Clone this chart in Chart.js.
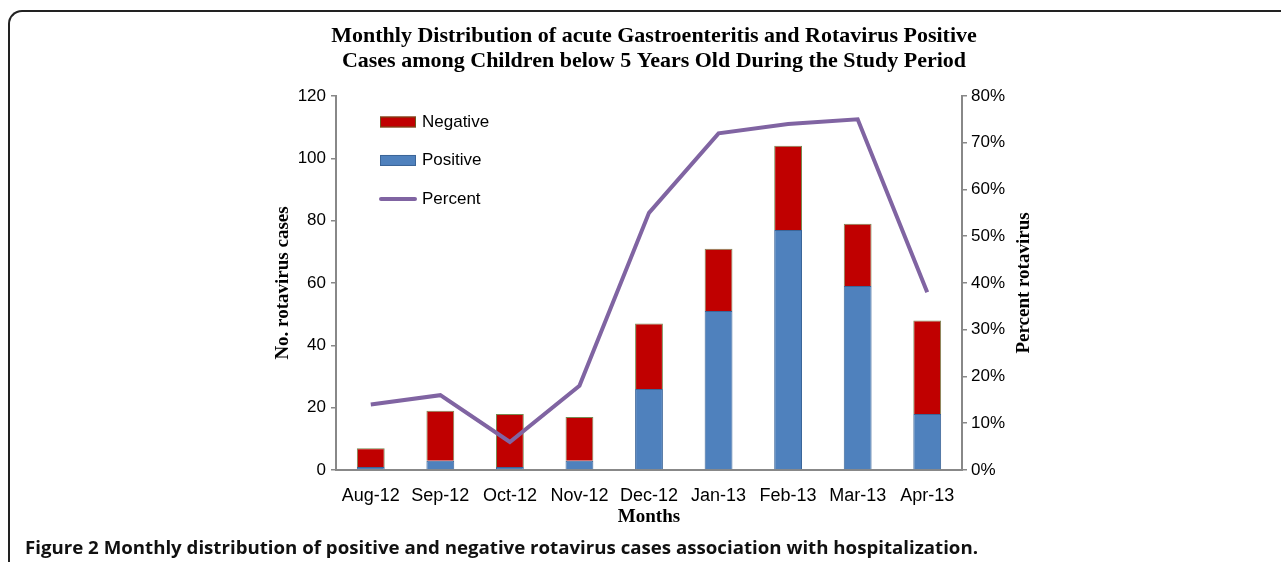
<!DOCTYPE html>
<html>
<head>
<meta charset="utf-8">
<script src="https://cdn.jsdelivr.net/npm/chart.js@4.4.1/dist/chart.umd.min.js"></script>
<style>
body { margin: 0; background: #fff; }
#frame { position: absolute; left: 8px; top: 10px; width: 1300px; height: 600px;
  border-left: 2px solid #222; border-top: 2px solid #222; border-top-left-radius: 14px; }
#wrap { position: absolute; left: 0; top: 0; width: 1281px; height: 562px; }
#caption { position: absolute; left: 25px; top: 535px; font: bold 18px "Open Sans", sans-serif;
  white-space: nowrap; transform-origin: 0 0; color: #111; }
</style>
</head>
<body>
<div id="frame"></div>
<div id="wrap"><canvas id="comboChart" width="1281" height="562"></canvas></div>
<div id="caption">Figure 2 Monthly distribution of positive and negative rotavirus cases association with hospitalization.</div>
<script>
var months = ["Aug-12", "Sep-12", "Oct-12", "Nov-12", "Dec-12", "Jan-13", "Feb-13", "Mar-13", "Apr-13"];
var positive = [1, 3, 1, 3, 26, 51, 77, 59, 18];
var negative = [6, 16, 17, 14, 21, 20, 27, 20, 30];
var percent = [0.14, 0.16, 0.06, 0.18, 0.55, 0.72, 0.74, 0.75, 0.38];
var legendOrder = ["Negative", "Positive", "Percent"];

var cap = document.getElementById("caption");
cap.style.transform = "scaleX(" + (953 / cap.offsetWidth) + ")";

var sans = "'Liberation Sans', Arial, sans-serif";
var serif = "'Liberation Serif', 'Times New Roman', serif";

// right axis title reads bottom-to-top, draw it ourselves
var rightTitle = {
  id: 'rightTitle',
  afterDraw: function(chart) {
    var ctx = chart.ctx, a = chart.chartArea;
    ctx.save();
    ctx.translate(1024, (a.top + a.bottom) / 2);
    ctx.rotate(-Math.PI / 2);
    ctx.font = "bold 19px " + serif;
    ctx.fillStyle = "#000";
    ctx.textAlign = "center";
    ctx.textBaseline = "middle";
    ctx.fillText("Percent rotavirus", 0, 0);
    ctx.restore();
  }
};

// legend sits inside the plot, top left, one item per row
var innerLegend = {
  id: 'innerLegend',
  afterDatasetsDraw: function(chart) {
    var ctx = chart.ctx, a = chart.chartArea;
    var x = a.left + 44, y = a.top + 26;
    ctx.save();
    ctx.font = "17px " + sans;
    ctx.textBaseline = "middle";
    legendOrder.forEach(function(name, i) {
      var ds = chart.data.datasets.find(function(d) { return d.label === name; });
      var cy = y + i * 38.5;
      if (ds.type === 'line') {
        ctx.strokeStyle = ds.borderColor;
        ctx.lineWidth = ds.borderWidth;
        ctx.lineCap = 'round';
        ctx.beginPath();
        ctx.moveTo(x + 1, cy);
        ctx.lineTo(x + 35, cy);
        ctx.stroke();
      } else {
        ctx.fillStyle = ds.backgroundColor;
        ctx.fillRect(x, cy - 5.5, 36, 11);
        ctx.strokeStyle = ds.borderColor;
        ctx.lineWidth = 1;
        ctx.strokeRect(x + 0.5, cy - 5, 35, 10);
      }
      ctx.fillStyle = '#000';
      ctx.fillText(name, x + 42, cy);
    });
    ctx.restore();
  }
};

var ctx = document.getElementById("comboChart").getContext('2d');
var myChart = new Chart(ctx, {
  type: 'bar',
  data: {
    labels: months,
    datasets: [{
      label: "Positive",
      data: positive,
      backgroundColor: '#4F81BD',
      borderColor: '#3B6598',
      borderWidth: 1,
      order: 1,
      yAxisID: 'y'
    },
    {
      label: "Negative",
      data: negative,
      backgroundColor: '#C00000',
      borderColor: 'rgba(85,110,40,0.8)',
      borderWidth: 1,
      order: 2,
      yAxisID: 'y'
    },
    {
      type: 'line',
      label: "Percent",
      data: percent,
      borderColor: '#8064A2',
      backgroundColor: '#8064A2',
      borderWidth: 4,
      pointRadius: 0,
      tension: 0,
      order: 0,
      yAxisID: 'y1'
    }]
  },
  options: {
    responsive: false,
    animation: false,
    categoryPercentage: 0.8,
    barPercentage: 0.5,
    layout: { padding: { left: 268, right: 241, top: 24, bottom: 30 } },
    plugins: {
      tooltip: { enabled: false },
      legend: { display: false },
      title: {
        display: true,
        text: ["Monthly Distribution of acute Gastroenteritis and Rotavirus Positive",
               "Cases among Children below 5 Years Old During the Study Period"],
        color: '#000',
        font: { family: serif, size: 22, weight: 'bold', lineHeight: 1.136 },
        padding: { top: 0, bottom: 22 }
      }
    },
    scales: {
      x: {
        stacked: true,
        offset: true,
        afterFit: function(s) { s.height = 62; },
        grid: { display: false },
        border: { display: true, color: '#888', width: 2 },
        ticks: { color: '#000', padding: 7, maxRotation: 0, font: { family: sans, size: 18 } },
        title: { display: true, text: "Months", color: '#000', font: { family: serif, size: 19, weight: 'bold' } }
      },
      y: {
        stacked: true,
        position: 'left',
        min: 0, max: 120,
        afterFit: function(s) { s.width = 336 - 268; },
        grid: { drawOnChartArea: false, tickLength: 5, color: '#888', lineWidth: 1.5 },
        border: { color: '#888', width: 2 },
        ticks: { stepSize: 20, color: '#000', padding: 5, font: { family: sans, size: 17 } },
        title: { display: true, text: "No. rotavirus cases", color: '#000', font: { family: serif, size: 19, weight: 'bold' } }
      },
      y1: {
        position: 'right',
        min: 0, max: 0.8,
        afterFit: function(s) { s.width = 1281 - 241 - 962; },
        grid: { drawOnChartArea: false, tickLength: 5, color: '#888', lineWidth: 1.5 },
        border: { color: '#888', width: 2 },
        ticks: {
          stepSize: 0.1, color: '#000', padding: 4, font: { family: sans, size: 17 },
          callback: function(v) { return Math.round(v * 100) + '%'; }
        }
      }
    }
  },
  plugins: [rightTitle, innerLegend]
});
</script>
</body>
</html>
